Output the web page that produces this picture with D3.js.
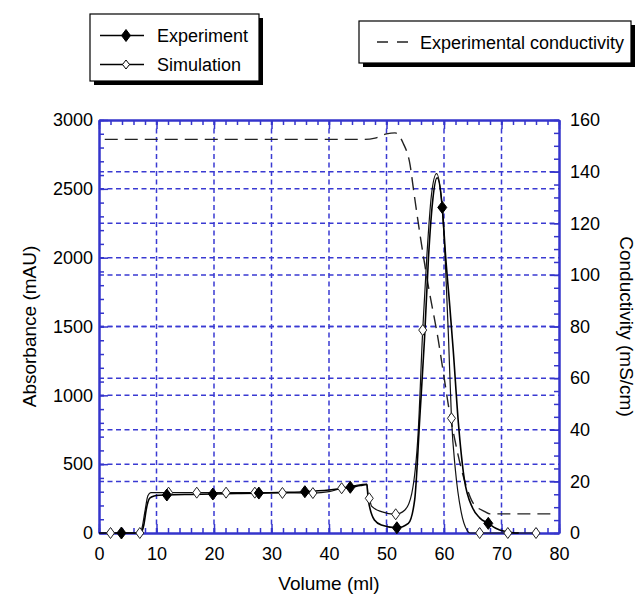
<!DOCTYPE html>
<html><head><meta charset="utf-8">
<script src="https://cdn.jsdelivr.net/npm/d3@7"></script>
<style>body{margin:0;background:#fff}svg{display:block;font-family:"Liberation Sans",Arial,Helvetica,sans-serif}</style>
</head><body><svg id="c" width="636" height="596"></svg>
<script>
// Data
const expVol = [0, 3.9, 7.2, 7.8, 8.2, 8.8, 9.6, 10.5, 11.8, 16, 19.8, 24, 27.8, 32, 35.8, 40, 43.7, 45.5, 46.6, 46.8, 47.9, 49.1, 51.8, 53.8, 54.9, 55.8, 56.6, 57.3, 58, 58.8, 59.7, 60.3, 61, 61.6, 62.5, 63.5, 65, 66.2, 67.7, 69, 70.5, 72, 73];
const expAbs = [0, 0, 0, 60, 167, 252, 269, 274, 276, 280, 283, 287, 290, 295, 300, 312, 332, 345, 352, 250, 94, 58, 38, 70, 240, 845, 1402, 2000, 2400, 2580, 2365, 2000, 1650, 1330, 800, 400, 180, 110, 70, 35, 12, 2, 0];
const simVol = [2.0, 7.1, 7.5, 8.0, 8.5, 9.0, 12.1, 17.0, 22.1, 27.1, 31.9, 37.2, 40, 42.2, 44.5, 46.6, 46.8, 47.0, 47.4, 49.1, 51.6, 53.2, 54.4, 55.5, 56.3, 57.0, 57.8, 58.7, 59.5, 60.2, 60.8, 61.3, 62, 63, 64, 64.5, 66.2, 71.1, 76.0];
const simAbs = [0, 0, 40, 160, 270, 293, 293, 293, 293, 293, 291, 290, 300, 325, 345, 355, 262, 252, 195, 155, 136, 167, 288, 726, 1474, 2000, 2450, 2610, 2450, 2000, 1400, 833, 450, 150, 20, 0, 0, 0, 0];
const expMarkVol = [3.9, 11.8, 19.8, 27.8, 35.8, 43.7, 51.8, 59.7, 67.7];
const expMarkAbs = [0, 276, 283, 290, 300, 332, 38, 2365, 70];
const simMarkVol = [2.0, 7.1, 12.1, 17.0, 22.1, 27.1, 31.9, 37.2, 42.2, 47.0, 51.6, 56.3, 61.3, 66.2, 71.1, 76.0];
const simMarkAbs = [0, 0, 293, 293, 293, 293, 291, 290, 325, 252, 136, 1474, 833, 0, 0, 0];
const condVol = [1, 46, 48, 50, 51.5, 52.9, 54.1, 54.7, 55.8, 57.3, 59, 59.9, 60.8, 61.9, 63, 64.2, 65.1, 67.1, 68, 79.6];
const condVal = [152.5, 152.5, 153, 154.6, 155, 151, 142.6, 133, 116, 95.4, 74.8, 62, 49, 36, 25, 16, 11.5, 8.3, 7.4, 7.4];
const xTicks = [0, 10, 20, 30, 40, 50, 60, 70, 80];
const yTicks = [0, 500, 1000, 1500, 2000, 2500, 3000];
const y2Ticks = [0, 20, 40, 60, 80, 100, 120, 140, 160];
const legend1 = ["Experiment", "Simulation"];
const legend2 = ["Experimental conductivity"];

const svg = d3.select("#c");
const L = 99, R = 559, T = 120, B = 533;
const x = d3.scaleLinear().domain([0, 80]).range([L, R]);
const y = d3.scaleLinear().domain([0, 3000]).range([B, T]);
const y2 = d3.scaleLinear().domain([0, 160]).range([B, T]);
const blue = "#3535cc";
const gridBlue = "#3a3ad2";
const FS = 18;

// grid
const grid = svg.append("g").attr("stroke", gridBlue).attr("stroke-width", 1.5).attr("stroke-dasharray", "5,3.5");
xTicks.filter(v => v > 0 && v < 80).forEach(v => grid.append("line").attr("x1", x(v)).attr("x2", x(v)).attr("y1", T).attr("y2", B));
yTicks.filter(v => v > 0 && v < 3000).forEach(v => grid.append("line").attr("x1", L).attr("x2", R).attr("y1", y(v)).attr("y2", y(v)));
y2Ticks.filter(v => v > 0 && v < 160).forEach(v => grid.append("line").attr("x1", L).attr("x2", R).attr("y1", y2(v)).attr("y2", y2(v)));

// axes
function styleAxis(g) {
  g.select(".domain").attr("stroke", blue).attr("stroke-width", 2);
  g.selectAll(".tick line").attr("stroke", blue).attr("stroke-width", 1.5);
  g.selectAll("text").attr("fill", "#000").attr("font-size", FS).attr("font-family", '"Liberation Sans",Arial,sans-serif');
}
const fmt = d3.format("d");
const minorX = d3.range(0, 80.01, 2);
const minorY = d3.range(0, 3000.1, 100);
const minorY2 = d3.range(0, 160.1, 5);

svg.append("g").attr("transform", `translate(0,${B})`)
  .call(d3.axisBottom(x).tickValues(minorX).tickSize(-5).tickFormat("").tickSizeOuter(0)).call(styleAxis);
svg.append("g").attr("transform", `translate(0,${B})`)
  .call(d3.axisBottom(x).tickValues(xTicks).tickSize(-9).tickPadding(14).tickFormat(fmt).tickSizeOuter(0)).call(styleAxis);
svg.append("g").attr("transform", `translate(0,${T})`)
  .call(d3.axisTop(x).tickValues(minorX).tickSize(-5).tickFormat("").tickSizeOuter(0)).call(styleAxis);
svg.append("g").attr("transform", `translate(0,${T})`)
  .call(d3.axisTop(x).tickValues(xTicks).tickSize(-9).tickFormat("").tickSizeOuter(0)).call(styleAxis);

svg.append("g").attr("transform", `translate(${L},0)`)
  .call(d3.axisLeft(y).tickValues(minorY).tickSize(-5).tickFormat("").tickSizeOuter(0)).call(styleAxis);
svg.append("g").attr("transform", `translate(${L},0)`)
  .call(d3.axisLeft(y).tickValues(yTicks).tickSize(-9).tickPadding(6).tickFormat(fmt).tickSizeOuter(0)).call(styleAxis);

svg.append("g").attr("transform", `translate(${R},0)`)
  .call(d3.axisRight(y2).tickValues(minorY2).tickSize(-5).tickFormat("").tickSizeOuter(0)).call(styleAxis);
svg.append("g").attr("transform", `translate(${R},0)`)
  .call(d3.axisRight(y2).tickValues(y2Ticks).tickSize(-9).tickPadding(11).tickFormat(fmt).tickSizeOuter(0)).call(styleAxis);

// axis titles
svg.append("text").attr("x", x(40)).attr("y", 590).attr("text-anchor", "middle").attr("font-size", 19).text("Volume (ml)");
svg.append("text").attr("transform", `translate(36,${(T + B) / 2}) rotate(-90)`).attr("text-anchor", "middle").attr("font-size", 19).text("Absorbance (mAU)");
svg.append("text").attr("transform", `translate(620,${(T + B) / 2}) rotate(90)`).attr("text-anchor", "middle").attr("font-size", 19).text("Conductivity (mS/cm)");

// curves
const lineA = d3.line().x(d => x(d[0])).y(d => y(d[1])).curve(d3.curveMonotoneX);
const lineC = d3.line().x(d => x(d[0])).y(d => y2(d[1])).curve(d3.curveMonotoneX);
svg.append("path").attr("d", lineC(condVol.map((v, i) => [v, condVal[i]])))
  .attr("fill", "none").attr("stroke", "#222").attr("stroke-width", 1.4).attr("stroke-dasharray", "13,7");
svg.append("path").attr("d", lineA(simVol.map((v, i) => [v, simAbs[i]])))
  .attr("fill", "none").attr("stroke", "#111").attr("stroke-width", 1.2);
svg.append("path").attr("d", lineA(expVol.map((v, i) => [v, expAbs[i]])))
  .attr("fill", "none").attr("stroke", "#000").attr("stroke-width", 1.6);

const diamond = (cx, cy, w, h) => `M${cx},${cy - h}L${cx + w},${cy}L${cx},${cy + h}L${cx - w},${cy}Z`;
svg.append("g").selectAll("path").data(simMarkVol.map((v, i) => [v, simMarkAbs[i]])).join("path")
  .attr("d", d => diamond(x(d[0]), y(d[1]), 4, 5.5)).attr("fill", "#fff").attr("stroke", "#222").attr("stroke-width", 1);
svg.append("g").selectAll("path").data(expMarkVol.map((v, i) => [v, expMarkAbs[i]])).join("path")
  .attr("d", d => diamond(x(d[0]), y(d[1]), 4.5, 6)).attr("fill", "#000").attr("stroke", "#000").attr("stroke-width", 1);

// legend 1
const lg1 = svg.append("g");
lg1.append("rect").attr("x", 94).attr("y", 18).attr("width", 169).attr("height", 67).attr("fill", "#000");
lg1.append("rect").attr("x", 90).attr("y", 14).attr("width", 169).attr("height", 67).attr("fill", "#fff").attr("stroke", "#000").attr("stroke-width", 1.2);
[35.5, 64.5].forEach((ly, i) => {
  lg1.append("line").attr("x1", 100).attr("x2", 144).attr("y1", ly).attr("y2", ly).attr("stroke", "#000").attr("stroke-width", 1.3);
  lg1.append("path").attr("d", diamond(126, ly, i === 0 ? 4.5 : 3.5, i === 0 ? 6 : 4.5))
    .attr("fill", i === 0 ? "#000" : "#fff").attr("stroke", "#000").attr("stroke-width", 1);
  lg1.append("text").attr("x", 157).attr("y", ly + 6.5).attr("font-size", 18).text(legend1[i]);
});
// legend 2
const lg2 = svg.append("g");
lg2.append("rect").attr("x", 363).attr("y", 25).attr("width", 272).attr("height", 42).attr("fill", "#000");
lg2.append("rect").attr("x", 359).attr("y", 21).attr("width", 272).attr("height", 42).attr("fill", "#fff").attr("stroke", "#000").attr("stroke-width", 1.2);
lg2.append("line").attr("x1", 377).attr("x2", 412).attr("y1", 42).attr("y2", 42).attr("stroke", "#222").attr("stroke-width", 1.4).attr("stroke-dasharray", "11,9");
lg2.append("text").attr("x", 420).attr("y", 48.5).attr("font-size", 18).text(legend2[0]);
</script></body></html>
